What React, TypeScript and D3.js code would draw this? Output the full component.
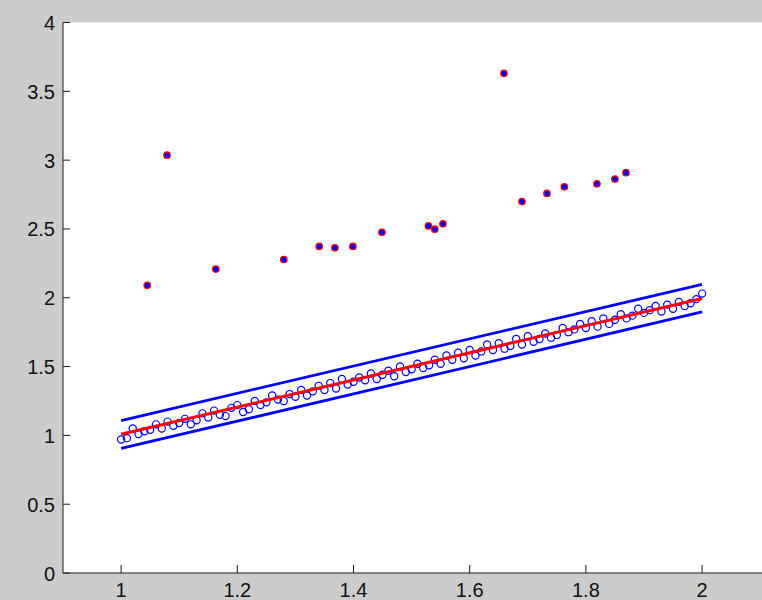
import React from "react";
import * as d3 from "d3";

const W = 762;
const H = 600;

// Regression sample points (blue open circles)
const sampleX = [
  1.0, 1.01, 1.02, 1.03, 1.04, 1.05, 1.06, 1.07, 1.08, 1.09,
  1.1, 1.11, 1.12, 1.13, 1.14, 1.15, 1.16, 1.17, 1.18, 1.19,
  1.2, 1.21, 1.22, 1.23, 1.24, 1.25, 1.26, 1.27, 1.28, 1.29,
  1.3, 1.31, 1.32, 1.33, 1.34, 1.35, 1.36, 1.37, 1.38, 1.39,
  1.4, 1.41, 1.42, 1.43, 1.44, 1.45, 1.46, 1.47, 1.48, 1.49,
  1.5, 1.51, 1.52, 1.53, 1.54, 1.55, 1.56, 1.57, 1.58, 1.59,
  1.6, 1.61, 1.62, 1.63, 1.64, 1.65, 1.66, 1.67, 1.68, 1.69,
  1.7, 1.71, 1.72, 1.73, 1.74, 1.75, 1.76, 1.77, 1.78, 1.79,
  1.8, 1.81, 1.82, 1.83, 1.84, 1.85, 1.86, 1.87, 1.88, 1.89,
  1.9, 1.91, 1.92, 1.93, 1.94, 1.95, 1.96, 1.97, 1.98, 1.99,
  2.0,
];
const sampleY = [
  0.97, 0.98, 1.05, 1.01, 1.03, 1.04, 1.08, 1.05, 1.1, 1.07,
  1.09, 1.12, 1.08, 1.11, 1.16, 1.13, 1.18, 1.15, 1.14, 1.2,
  1.22, 1.17, 1.19, 1.25, 1.22, 1.24, 1.29, 1.26, 1.25, 1.3,
  1.28, 1.33, 1.29, 1.32, 1.36, 1.33, 1.38, 1.34, 1.41, 1.37,
  1.39, 1.42, 1.4, 1.45, 1.41, 1.44, 1.47, 1.43, 1.5, 1.46,
  1.48, 1.52, 1.49, 1.51, 1.55, 1.52, 1.58, 1.55, 1.6, 1.56,
  1.62, 1.58, 1.61, 1.66, 1.62, 1.67, 1.63, 1.65, 1.7, 1.66,
  1.72, 1.68, 1.7, 1.74, 1.71, 1.73, 1.78, 1.75, 1.77, 1.81,
  1.78, 1.83, 1.79, 1.85, 1.81, 1.84, 1.88, 1.85, 1.87, 1.92,
  1.89, 1.91, 1.94, 1.9, 1.95, 1.92, 1.97, 1.94, 1.96, 1.99,
  2.03,
];

// Outliers (red-edged, blue-filled dots)
const outlierX = [
  1.045, 1.079, 1.163, 1.28, 1.341, 1.368, 1.399, 1.449, 1.529,
  1.54, 1.554, 1.659, 1.69, 1.733, 1.763, 1.819, 1.85, 1.869,
];
const outlierY = [
  2.09, 3.036, 2.208, 2.278, 2.373, 2.363, 2.373, 2.476, 2.522,
  2.498, 2.537, 3.631, 2.699, 2.758, 2.806, 2.828, 2.862, 2.909,
];

// Fitted line and tolerance band
const fitX = [1.0, 2.0];
const fitY = [1.008, 1.995];
const upperY = [1.108, 2.097];
const lowerY = [0.905, 1.897];

const xTicks = [1, 1.2, 1.4, 1.6, 1.8, 2];
const yTicks = [0, 0.5, 1, 1.5, 2, 2.5, 3, 3.5, 4];

export default function App() {
  const left = 63;
  const top = 22.5;
  const bottom = 573;
  const x = d3.scaleLinear().domain([0.9, 2.1]).range([left, left + 1.2 * 581]);
  const y = d3.scaleLinear().domain([0, 4]).range([bottom, top]);

  const line = d3
    .line<[number, number]>()
    .x((d) => x(d[0]))
    .y((d) => y(d[1]));

  const fitPts = fitX.map((v, i) => [v, fitY[i]] as [number, number]);
  const upPts = fitX.map((v, i) => [v, upperY[i]] as [number, number]);
  const loPts = fitX.map((v, i) => [v, lowerY[i]] as [number, number]);

  const font = "'Liberation Sans', Arial, sans-serif";
  const axisColor = "#1a1a1a";

  return (
    <svg
      width={W}
      height={H}
      style={{ position: "fixed", left: 0, top: 0, display: "block" }}
    >
      <rect x={0} y={0} width={W} height={H} fill="#cccccc" />
      <rect x={left} y={top} width={W - left} height={bottom - top} fill="#ffffff" />

      {/* band lines */}
      <path d={line(upPts) || ""} stroke="#0000ff" strokeWidth={2.8} fill="none" />
      <path d={line(loPts) || ""} stroke="#0000ff" strokeWidth={2.8} fill="none" />

      {/* sample circles */}
      {sampleX.map((v, i) => (
        <circle
          key={"s" + i}
          cx={x(v)}
          cy={y(sampleY[i])}
          r={3.6}
          fill="none"
          stroke="#0000ff"
          strokeWidth={1.2}
        />
      ))}

      {/* fit line */}
      <path d={line(fitPts) || ""} stroke="#ff0000" strokeWidth={3} fill="none" />

      {/* outliers */}
      {outlierX.map((v, i) => (
        <circle
          key={"o" + i}
          cx={x(v)}
          cy={y(outlierY[i])}
          r={3.2}
          fill="#0000ff"
          stroke="#ff0000"
          strokeWidth={1.3}
        />
      ))}

      {/* axes */}
      <line x1={left} x2={W} y1={bottom} y2={bottom} stroke={axisColor} strokeWidth={1} />
      <line x1={left} x2={left} y1={top} y2={bottom} stroke={axisColor} strokeWidth={1} />

      {xTicks.map((t) => (
        <g key={"xt" + t}>
          <line x1={x(t)} x2={x(t)} y1={bottom} y2={bottom - 8} stroke={axisColor} strokeWidth={1} />
          <text
            x={x(t)}
            y={597}
            textAnchor="middle"
            fontFamily={font}
            fontSize={20}
            fill="#111"
          >
            {String(t)}
          </text>
        </g>
      ))}
      {yTicks.map((t) => (
        <g key={"yt" + t}>
          <line x1={left} x2={left + 7} y1={y(t)} y2={y(t)} stroke={axisColor} strokeWidth={1} />
          <text
            x={55}
            y={y(t) + 7.5}
            textAnchor="end"
            fontFamily={font}
            fontSize={20}
            fill="#111"
          >
            {String(t)}
          </text>
        </g>
      ))}
    </svg>
  );
}
